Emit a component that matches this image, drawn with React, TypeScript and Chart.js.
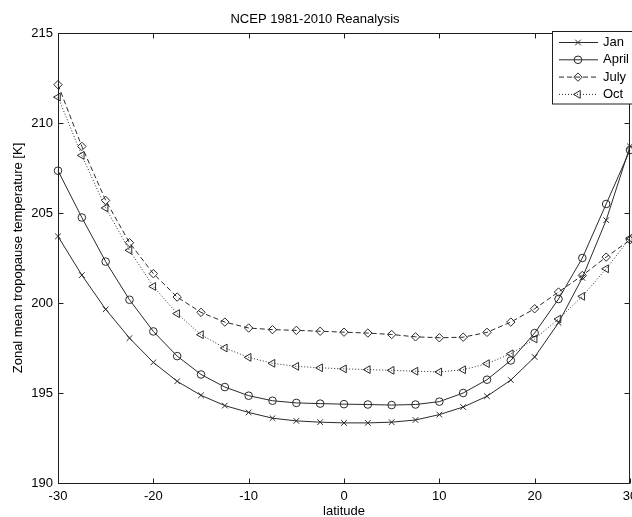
import React, { useEffect, useRef } from "react";
import { Chart, registerables } from "chart.js";

Chart.register(...registerables);

// ---------------- data ----------------
const latitudes = [
  -30, -27.5, -25, -22.5, -20, -17.5, -15, -12.5, -10, -7.5, -5, -2.5, 0,
  2.5, 5, 7.5, 10, 12.5, 15, 17.5, 20, 22.5, 25, 27.5, 30,
];
const janTemps = [
  203.7, 201.55, 199.65, 198.05, 196.7, 195.65, 194.87, 194.3, 193.92, 193.6,
  193.45, 193.38, 193.34, 193.34, 193.38, 193.5, 193.8, 194.22, 194.82, 195.72,
  197.0, 198.9, 201.4, 204.6, 208.7,
];
const aprilTemps = [
  207.35, 204.75, 202.3, 200.18, 198.42, 197.05, 196.03, 195.33, 194.85,
  194.57, 194.45, 194.41, 194.38, 194.36, 194.33, 194.36, 194.52, 195.0,
  195.74, 196.81, 198.33, 200.22, 202.5, 205.5, 208.5,
];
const julyTemps = [
  212.13, 208.7, 205.7, 203.35, 201.63, 200.33, 199.48, 198.94, 198.61, 198.52,
  198.48, 198.43, 198.38, 198.33, 198.25, 198.12, 198.07, 198.1, 198.37,
  198.94, 199.68, 200.61, 201.53, 202.55, 203.5,
];
const octTemps = [
  211.44, 208.2, 205.28, 202.93, 200.92, 199.41, 198.24, 197.5, 196.98, 196.65,
  196.48, 196.4, 196.34, 196.3, 196.26, 196.21, 196.17, 196.29, 196.63, 197.18,
  198.0, 199.11, 200.37, 201.9, 203.6,
];
const seriesLabels = ["Jan", "April", "July", "Oct"];
const xTickValues = [-30, -20, -10, 0, 10, 20, 30];
const yTickValues = [190, 195, 200, 205, 210, 215];
const titleText = "NCEP 1981-2010 Reanalysis";
const xTitleText = "latitude";
const yTitleText = "Zonal mean tropopause temperature [K]";

// ---------------- styling ----------------
const FONT = "'Liberation Sans', Arial, Helvetica, sans-serif";
const INK = "#1e1e1e";
const LINE = "#2a2a2a";

type Marker = "crossRot" | "circle" | "rectRot" | "triangle";

function drawMarker(
  ctx: CanvasRenderingContext2D,
  style: Marker,
  x: number,
  y: number,
  r: number,
  rotationDeg: number
) {
  ctx.beginPath();
  if (style === "circle") {
    ctx.arc(x, y, r, 0, Math.PI * 2);
  } else if (style === "crossRot") {
    const o = Math.cos(Math.PI / 4) * r;
    ctx.moveTo(x - o, y - o);
    ctx.lineTo(x + o, y + o);
    ctx.moveTo(x - o, y + o);
    ctx.lineTo(x + o, y - o);
  } else if (style === "rectRot") {
    ctx.moveTo(x - r, y);
    ctx.lineTo(x, y - r);
    ctx.lineTo(x + r, y);
    ctx.lineTo(x, y + r);
    ctx.closePath();
  } else if (style === "triangle") {
    let rad = (rotationDeg * Math.PI) / 180;
    ctx.moveTo(x + Math.sin(rad) * r, y - Math.cos(rad) * r);
    rad += (2 * Math.PI) / 3;
    ctx.lineTo(x + Math.sin(rad) * r, y - Math.cos(rad) * r);
    rad += (2 * Math.PI) / 3;
    ctx.lineTo(x + Math.sin(rad) * r, y - Math.cos(rad) * r);
    ctx.closePath();
  }
  ctx.stroke();
}

const framePlugin = {
  id: "matlabFrame",
  afterDatasetsDraw(chart: any) {
    const { ctx, chartArea, scales } = chart;
    const xs = scales.x;
    const ys = scales.y;
    const L = Math.round(chartArea.left) + 0.5;
    const R = Math.round(chartArea.right) - 0.5;
    const T = Math.round(chartArea.top) + 0.5;
    const B = Math.round(chartArea.bottom) + 0.5;
    const tl = 5;
    ctx.save();
    ctx.strokeStyle = INK;
    ctx.lineWidth = 1;
    ctx.setLineDash([]);
    ctx.strokeRect(L, T, R - L, B - T);
    ctx.beginPath();
    xTickValues.forEach((v) => {
      const px = Math.round(xs.getPixelForValue(v)) + 0.5;
      ctx.moveTo(px, B);
      ctx.lineTo(px, B - tl);
      ctx.moveTo(px, T);
      ctx.lineTo(px, T + tl);
    });
    yTickValues.forEach((v) => {
      const py = Math.round(ys.getPixelForValue(v)) + 0.5;
      ctx.moveTo(L, py);
      ctx.lineTo(L + tl, py);
      ctx.moveTo(R, py);
      ctx.lineTo(R - tl, py);
    });
    ctx.stroke();
    ctx.restore();
  },
};

const legendPlugin = {
  id: "matlabLegend",
  afterDraw(chart: any) {
    const { ctx } = chart;
    const boxX = 552.5;
    const boxY = 31.5;
    const boxW = 120;
    const boxH = 72.5;
    ctx.save();
    ctx.fillStyle = "#ffffff";
    ctx.fillRect(boxX, boxY, boxW, boxH);
    ctx.strokeStyle = INK;
    ctx.lineWidth = 1;
    ctx.setLineDash([]);
    ctx.strokeRect(boxX, boxY, boxW, boxH);
    const firstY = 42.5;
    const step = 17.3;
    chart.data.datasets.forEach((ds: any, i: number) => {
      const cy = firstY + i * step;
      ctx.strokeStyle = ds.borderColor;
      ctx.lineWidth = ds.borderWidth;
      ctx.setLineDash(ds.borderDash || []);
      ctx.beginPath();
      ctx.moveTo(559, cy);
      ctx.lineTo(598, cy);
      ctx.stroke();
      ctx.setLineDash([]);
      ctx.strokeStyle = ds.pointBorderColor;
      ctx.lineWidth = ds.pointBorderWidth;
      drawMarker(ctx, ds.pointStyle, 578, cy, ds.pointRadius, ds.pointRotation || 0);
      ctx.fillStyle = "#000";
      ctx.font = `13px ${FONT}`;
      ctx.textAlign = "left";
      ctx.textBaseline = "middle";
      ctx.fillText(ds.label, 603, cy);
    });
    ctx.restore();
  },
};

function makeDataset(
  label: string,
  values: number[],
  style: Marker,
  radius: number,
  dash: number[],
  rotation = 0
) {
  return {
    label,
    data: latitudes.map((lat, i) => ({ x: lat, y: values[i] })),
    borderColor: LINE,
    borderWidth: 1,
    borderDash: dash,
    pointStyle: style,
    pointRadius: radius,
    pointRotation: rotation,
    pointBorderColor: LINE,
    pointBackgroundColor: "rgba(0,0,0,0)",
    pointBorderWidth: 1,
    tension: 0,
    fill: false,
    clip: false,
  };
}

export default function App() {
  const canvasRef = useRef<HTMLCanvasElement | null>(null);

  useEffect(() => {
    if (!canvasRef.current) return;
    const tickFont = { family: FONT, size: 13, weight: "normal" as const, lineHeight: 1.2 };
    const chart = new Chart(canvasRef.current, {
      type: "line",
      data: {
        datasets: [
          makeDataset(seriesLabels[0], janTemps, "crossRot", 4, []),
          makeDataset(seriesLabels[1], aprilTemps, "circle", 3.8, []),
          makeDataset(seriesLabels[2], julyTemps, "rectRot", 4.2, [5, 3]),
          makeDataset(seriesLabels[3], octTemps, "triangle", 4.5, [1, 2], -90),
        ] as any,
      },
      options: {
        animation: false,
        responsive: false,
        maintainAspectRatio: false,
        devicePixelRatio: 1,
        layout: { padding: { left: 0, top: 0, right: 30, bottom: 17 } },
        plugins: {
          legend: { display: false },
          tooltip: { enabled: false },
          title: {
            display: true,
            text: titleText,
            color: "#000",
            font: tickFont,
            padding: { top: 11.7, bottom: 5.7 },
          },
        },
        scales: {
          x: {
            type: "linear",
            min: -30,
            max: 30,
            afterBuildTicks: (s: any) => {
              s.ticks = xTickValues.map((v) => ({ value: v }));
            },
            afterFit: (s: any) => {
              s.height = 40;
            },
            grid: { display: false, drawTicks: false },
            border: { display: false },
            ticks: {
              color: "#000",
              font: tickFont,
              padding: 6,
              maxRotation: 0,
              autoSkip: false,
            },
            title: {
              display: true,
              text: xTitleText,
              color: "#000",
              font: tickFont,
              padding: { top: 0, bottom: 3.5 },
            },
          },
          y: {
            type: "linear",
            min: 190,
            max: 215,
            afterBuildTicks: (s: any) => {
              s.ticks = yTickValues.map((v) => ({ value: v }));
            },
            afterFit: (s: any) => {
              s.width = 58;
            },
            grid: { display: false, drawTicks: false },
            border: { display: false },
            ticks: { color: "#000", font: tickFont, padding: 5, autoSkip: false },
            title: {
              display: true,
              text: yTitleText,
              color: "#000",
              font: tickFont,
              padding: { top: 11, bottom: 0 },
            },
          },
        },
      } as any,
      plugins: [framePlugin, legendPlugin],
    });
    return () => chart.destroy();
  }, []);

  return (
    <div
      style={{
        position: "absolute",
        left: 0,
        top: 0,
        width: 632,
        height: 517,
        overflow: "hidden",
        background: "#ffffff",
      }}
    >
      <canvas
        ref={canvasRef}
        width={660}
        height={540}
        style={{ display: "block", width: 660, height: 540 }}
      />
    </div>
  );
}
